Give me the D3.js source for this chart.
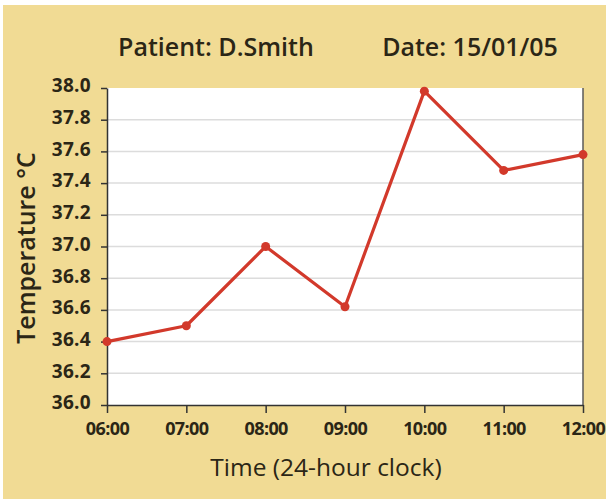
<!DOCTYPE html>
<html>
<head>
<meta charset="utf-8">
<script src="https://cdn.jsdelivr.net/npm/d3@7"></script>
<style>
  body { margin: 0; background: #fff; }
  svg text { font-family: "Open Sans", "Noto Sans", sans-serif; fill: #2b2616; }
  .tick text { font-size: 19px; font-weight: 700; letter-spacing: 0.3px; }
  .x-axis .tick text { font-size: 18px; letter-spacing: -0.6px; }
</style>
</head>
<body>
<svg width="606" height="499"></svg>
<script>
(function () {
  "use strict";
  // data
  const times = ["06:00", "07:00", "08:00", "09:00", "10:00", "11:00", "12:00"];
  const temps = [36.4, 36.5, 37.0, 36.62, 37.98, 37.48, 37.58];
  const yTicks = [36.0, 36.2, 36.4, 36.6, 36.8, 37.0, 37.2, 37.4, 37.6, 37.8, 38.0];

  const svg = d3.select("svg");
  const width = +svg.attr("width");
  const height = +svg.attr("height");
  const margin = { top: 88, right: 23, bottom: 94, left: 107 };
  const innerWidth = width - margin.left - margin.right;
  const innerHeight = height - margin.top - margin.bottom;

  svg.append("rect")
    .attr("x", 3).attr("y", 5)
    .attr("width", width - 3).attr("height", height - 5)
    .attr("fill", "#f1db94");

  const xScale = d3.scalePoint().domain(times).range([0, innerWidth]);
  const yScale = d3.scaleLinear().domain([36, 38]).range([innerHeight, 0]);

  const g = svg.append("g")
    .attr("transform", `translate(${margin.left},${margin.top})`);

  g.append("rect")
    .attr("width", innerWidth)
    .attr("height", innerHeight)
    .attr("fill", "#fff");

  // gridlines
  g.append("g")
    .selectAll("line")
    .data(yTicks.slice(1, -1))
    .enter()
    .append("line")
    .attr("x1", 0).attr("x2", innerWidth)
    .attr("y1", (d) => yScale(d)).attr("y2", (d) => yScale(d))
    .attr("stroke", "#dcdcdc")
    .attr("stroke-width", 1.5);

  // right border
  g.append("line")
    .attr("x1", innerWidth).attr("x2", innerWidth)
    .attr("y1", 0).attr("y2", innerHeight)
    .attr("stroke", "#5a5a5a")
    .attr("stroke-width", 1.5);

  const yAxisG = g.append("g")
    .call(d3.axisLeft(yScale).tickValues(yTicks).tickFormat(d3.format(".1f"))
      .tickSize(6).tickSizeOuter(0));
  yAxisG.selectAll("line, path").attr("stroke", "#333").attr("stroke-width", 1.5);
  yAxisG.selectAll(".tick text").attr("x", -16).attr("dy", "0.2em");

  const xAxisG = g.append("g")
    .attr("class", "x-axis")
    .attr("transform", `translate(0,${innerHeight})`)
    .call(d3.axisBottom(xScale).tickSize(8).tickSizeOuter(0));
  xAxisG.selectAll("line, path").attr("stroke", "#333").attr("stroke-width", 1.5);
  xAxisG.selectAll(".tick text").attr("y", 17);

  const points = times.map((t, i) => ({ t: t, v: temps[i] }));

  g.append("path")
    .datum(points)
    .attr("fill", "none")
    .attr("stroke", "#d2392b")
    .attr("stroke-width", 3.2)
    .attr("stroke-linejoin", "round")
    .attr("d", d3.line().x((d) => xScale(d.t)).y((d) => yScale(d.v)));

  g.selectAll("circle")
    .data(points)
    .enter()
    .append("circle")
    .attr("cx", (d) => xScale(d.t))
    .attr("cy", (d) => yScale(d.v))
    .attr("r", 4.5)
    .attr("fill", "#d2392b");

  // titles
  svg.append("text")
    .attr("x", 216).attr("y", 56)
    .attr("text-anchor", "middle")
    .style("font-size", "25px")
    .style("font-weight", 600)
    .text("Patient: D.Smith");

  svg.append("text")
    .attr("x", 470).attr("y", 56)
    .attr("text-anchor", "middle")
    .style("font-size", "25px")
    .style("font-weight", 600)
    .text("Date: 15/01/05");

  svg.append("text")
    .attr("transform", `translate(35,${248}) rotate(-90)`)
    .attr("text-anchor", "middle")
    .style("font-size", "25px")
    .style("font-weight", 600)
    .text("Temperature °C");

  svg.append("text")
    .attr("x", 326)
    .attr("y", 476)
    .attr("text-anchor", "middle")
    .style("font-size", "24.5px")
    .style("font-weight", 500)
    .text("Time (24-hour clock)");
})();
</script>
</body>
</html>
